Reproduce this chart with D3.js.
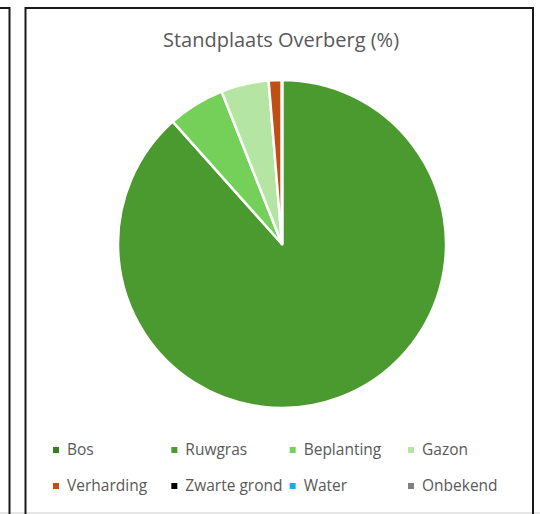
<!DOCTYPE html>
<html>
<head>
<meta charset="utf-8">
<script src="https://cdn.jsdelivr.net/npm/d3@7"></script>
<style>
  body { margin: 0; background: #fff; }
  text { font-family: "Open Sans", "Noto Sans", sans-serif; fill: #595959; }
</style>
</head>
<body>
<div id="chart"></div>
<script>
// land use categories and their share (%)
var categories = ["Bos", "Ruwgras", "Beplanting", "Gazon", "Verharding", "Zwarte grond", "Water", "Onbekend"];
var values = [0, 88.4, 5.6, 4.7, 1.3, 0, 0, 0];
var colors = ["#3a7d22", "#4b9a2f", "#75d05a", "#b4e5a2", "#c04f15", "#000000", "#0fb0e8", "#7f7f7f"];
var title = "Standplaats Overberg (%)";

var width = 540;
var height = 514;

var svg = d3.select("#chart")
  .append("svg")
  .attr("width", width)
  .attr("height", height);

// frames (neighbouring chart edge + this chart's border)
svg.append("rect").attr("x", 0).attr("y", 512).attr("width", width).attr("height", 2).attr("fill", "#e6e6e6");
svg.append("path")
  .attr("d", "M0,8 H9.5 V514")
  .attr("fill", "none").attr("stroke", "#1a1a1a").attr("stroke-width", 2);
svg.append("path")
  .attr("d", "M25.5,514 V8 H533 V514")
  .attr("fill", "none").attr("stroke", "#1a1a1a").attr("stroke-width", 2);

svg.append("text")
  .attr("x", 281)
  .attr("y", 47)
  .attr("text-anchor", "middle")
  .attr("font-size", 20)
  .text(title);

var cx = 282, cy = 244, radius = 164;

var pie = d3.pie().sort(null).value(function(d) { return d; });
var arc = d3.arc().innerRadius(0).outerRadius(radius);

var g = svg.append("g").attr("transform", "translate(" + cx + "," + cy + ")");
g.selectAll("path")
  .data(pie(values))
  .enter()
  .append("path")
  .attr("d", arc)
  .attr("fill", function(d, i) { return colors[i]; })
  .attr("stroke", "#fff")
  .attr("stroke-width", 2.5)
  .attr("stroke-linejoin", "round");

// legend, 4 columns x 2 rows
var colX = d3.scaleLinear().domain([0, 3]).range([53, 408]);
var rowY = d3.scaleLinear().domain([0, 1]).range([450, 486]);

var leg = svg.selectAll("g.legend")
  .data(categories)
  .enter()
  .append("g")
  .attr("class", "legend")
  .attr("transform", function(d, i) {
    return "translate(" + colX(i % 4) + "," + rowY(Math.floor(i / 4)) + ")";
  });

leg.append("rect")
  .attr("x", 0).attr("y", -3)
  .attr("width", 6).attr("height", 6)
  .attr("fill", function(d, i) { return colors[i]; });

leg.append("text")
  .attr("x", 14)
  .attr("y", 5)
  .attr("font-size", 15.5)
  .text(function(d) { return d; });
</script>
</body>
</html>
